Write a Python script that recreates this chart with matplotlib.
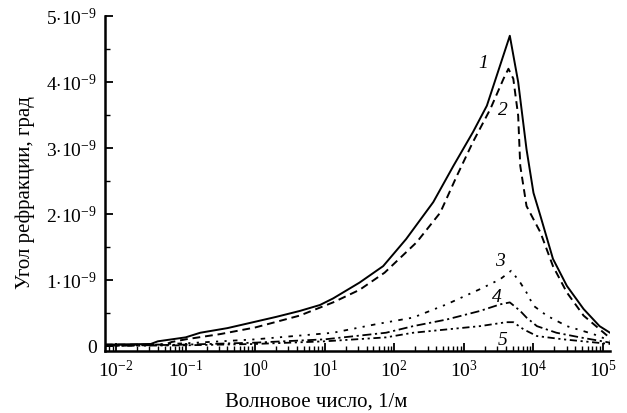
import matplotlib
matplotlib.use("Agg")
import matplotlib.pyplot as plt
import numpy as np
from matplotlib.ticker import FixedLocator, NullFormatter

plt.rcParams['font.family'] = ['Liberation Serif', 'DejaVu Serif']
plt.rcParams['mathtext.fontset'] = 'custom'
plt.rcParams['mathtext.rm'] = 'Liberation Serif'
plt.rcParams['mathtext.it'] = 'Liberation Serif:italic'

# log10 of wavenumber (1/m) and refraction angle (units of 1e-9 deg)
lk1 = [-2.16, -1.5, -1.4, -1.0, -0.79, -0.4, -0.07, 0.3, 0.64, 0.93, 1.12, 1.5,
       1.84, 2.17, 2.56, 2.85, 3.13, 3.33, 3.52, 3.66, 3.78, 3.9, 4.0, 4.1, 4.28,
       4.48, 4.72, 4.95, 5.1]
y1 = [0.02, 0.03, 0.07, 0.13, 0.2, 0.27, 0.35, 0.44, 0.53, 0.62, 0.72, 0.96,
      1.21, 1.62, 2.18, 2.73, 3.24, 3.64, 4.25, 4.70, 4.0, 2.98, 2.32, 1.97, 1.32,
      0.91, 0.56, 0.30, 0.2]

lk2 = [-2.16, -1.3, -1.2, -1.0, -0.5, 0.0, 0.64, 1.12, 1.5, 1.86, 2.32, 2.66,
       2.9, 3.13, 3.38, 3.57, 3.64, 3.71, 3.78, 3.81, 3.9, 4.1, 4.28, 4.48, 4.72,
       5.1]
y2 = [0.02, 0.02, 0.06, 0.1, 0.18, 0.28, 0.46, 0.66, 0.85, 1.11, 1.57, 2.02,
      2.58, 3.09, 3.59, 4.05, 4.2, 4.05, 3.49, 2.73, 2.12, 1.72, 1.21, 0.81, 0.46,
      0.12]

lk3 = [-2.16, -1.0, 0.0, 1.12, 1.74, 2.27, 2.75, 3.23, 3.52, 3.68, 3.81, 3.9,
       4.0, 4.19, 4.48, 4.86, 5.1]
y3 = [0.0, 0.04, 0.1, 0.2, 0.33, 0.43, 0.63, 0.86, 1.01, 1.14, 0.96, 0.81,
      0.61, 0.46, 0.30, 0.18, 0.08]

lk4 = [-2.16, -1.0, 0.0, 1.0, 1.88, 2.27, 2.75, 3.23, 3.52, 3.66, 3.81, 3.9,
       4.05, 4.33, 4.67, 5.1]
y4 = [0.0, 0.02, 0.05, 0.1, 0.2, 0.3, 0.4, 0.53, 0.63, 0.66, 0.53, 0.43,
      0.3, 0.2, 0.13, 0.05]

lk5 = [-2.16, -1.0, 0.0, 1.0, 1.88, 2.27, 2.75, 3.23, 3.61, 3.71, 3.86, 4.05,
       4.43, 5.1]
y5 = [0.0, 0.01, 0.03, 0.07, 0.13, 0.2, 0.25, 0.3, 0.36, 0.36, 0.25, 0.15,
      0.1, 0.03]

curve_labels = ['1', '2', '3', '4', '5']
label_lk = [3.27, 3.56, 3.52, 3.47, 3.55]
label_y = [4.3, 3.59, 1.29, 0.75, 0.1]

x_ticks = [1e-2, 1e-1, 1e0, 1e1, 1e2, 1e3, 1e4, 1e5]
x_tick_labels = [r'$10^{-2}$', r'$10^{-1}$', r'$10^{0}$', r'$10^{1}$',
                 r'$10^{2}$', r'$10^{3}$', r'$10^{4}$', r'$10^{5}$']
y_ticks = [0, 1, 2, 3, 4, 5]
y_tick_labels = ['0', r'$1{\cdot}10^{-9}$', r'$2{\cdot}10^{-9}$', r'$3{\cdot}10^{-9}$',
                 r'$4{\cdot}10^{-9}$', r'$5{\cdot}10^{-9}$']

fig = plt.figure(figsize=(6.27, 4.14), dpi=100)
ax = fig.add_axes([0.1675, 0.150, 0.8054, 0.809])

def K(lk):
    return 10.0 ** np.asarray(lk)

ax.plot(K(lk1), y1, color='black', lw=1.4, ls='-')
ax.plot(K(lk2), y2, color='black', lw=1.4, ls=(0, (4, 2.5)))
ax.plot(K(lk3), y3, color='black', lw=1.3, ls=(0, (1.2, 3.5, 1.2, 3.5, 2.5, 3.5)))
ax.plot(K(lk4), y4, color='black', lw=1.3, ls=(0, (5, 2, 1.2, 2)))
ax.plot(K(lk5), y5, color='black', lw=1.3, ls=(0, (4, 2, 1.2, 2, 1.2, 2)))

for lab, xx, yy in zip(curve_labels, K(label_lk), label_y):
    ax.text(xx, yy, lab, fontsize=14, style='italic', ha='center', va='center')

ax.set_xscale('log')
ax.set_xlim(10 ** -2.158, 10 ** 5.10)
ax.set_ylim(-0.075, 5.0)

ax.xaxis.set_major_locator(FixedLocator(x_ticks))
ax.set_xticklabels(x_tick_labels)
minor = [m * 10 ** e for e in range(-3, 6) for m in range(2, 10)]
ax.xaxis.set_minor_locator(FixedLocator(minor))
ax.xaxis.set_minor_formatter(NullFormatter())
ax.yaxis.set_major_locator(FixedLocator(y_ticks))
ax.set_yticklabels(y_tick_labels)
ax.yaxis.set_minor_locator(FixedLocator([0.5, 1.5, 2.5, 3.5, 4.5]))

ax.tick_params(axis='both', which='major', direction='in', length=6, width=1.3,
               labelsize=14, pad=6)
ax.tick_params(axis='both', which='minor', direction='in', length=3.5, width=1.0)

for s in ['top', 'right']:
    ax.spines[s].set_visible(False)
for s in ['left', 'bottom']:
    ax.spines[s].set_linewidth(1.8)

ax.set_xlabel('Волновое число, 1/м', fontsize=15)
ax.xaxis.label.set_va('center')
ax.xaxis.set_label_coords(0.418, -0.149)
ax.set_ylabel('Угол рефракции, град', fontsize=15)
ax.yaxis.label.set_va('center')
ax.yaxis.set_label_coords(-0.158, 0.475)

fig.savefig('out.png', dpi=100)
